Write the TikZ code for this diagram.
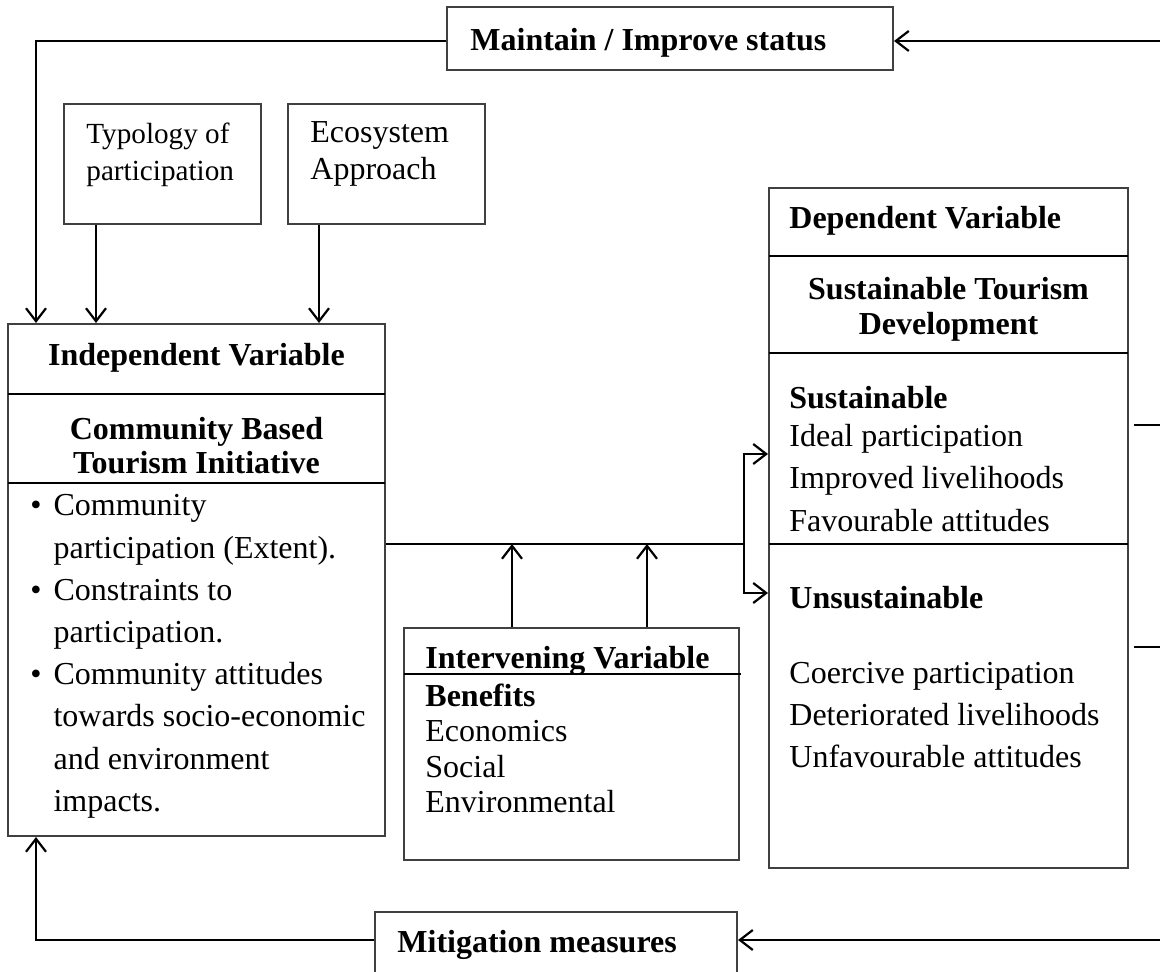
\documentclass[tikz,border=0pt]{standalone}
\usepackage{fontspec}
\setmainfont{Liberation Serif}
\usetikzlibrary{arrows.meta,fit}

\begin{document}
\begin{tikzpicture}[x=0.5pt,y=-0.5pt,
    box/.style={draw=black!75, line width=1pt, inner sep=0pt},
    divider/.style={line width=1pt},
    line/.style={line width=1.1pt},
    arr/.style={line, -{Straight Barb[length=6.5pt,width=10pt]}},
    txt/.style={inner sep=0pt, font=\fontsize{16}{21}\selectfont},
    bold/.style={inner sep=0pt, font=\fontsize{16}{21}\selectfont\bfseries}]
    \useasboundingbox (0,0) rectangle (1160,972);

    % Define boxes
    \node[box, fit={(447,7) (893,70)}] (maintain) {};
    \node[box, fit={(64,104) (261,224)}] (typo) {};
    \node[box, fit={(288,104) (485,224)}] (eco) {};
    \node[box, fit={(8,324) (385,836)}] (indep) {};
    \node[box, fit={(769,188) (1128,868)}] (dep) {};
    \node[box, fit={(404,628) (739,860)}] (interv) {};
    \node[box, fit={(375,912) (737,1000)}] (mitig) {};

    % Dividers inside boxes
    \draw[divider] (8,394) -- (385,394);
    \draw[divider] (8,483) -- (385,483);
    \draw[divider] (769,256) -- (1128,256);
    \draw[divider] (769,353) -- (1128,353);
    \draw[divider] (769,544) -- (1128,544);
    \draw[divider] (404,674) -- (741,674);

    % Define texts
    \node[bold, anchor=base west] (maintaint) at (470,51) {Maintain / Improve status};
    \node[inner sep=0pt, font=\fontsize{14.6}{18.5}\selectfont, align=left, anchor=north west] (typot) at (86,123) {Typology of\\participation};
    \node[txt, font=\fontsize{16}{18.5}\selectfont, align=left, anchor=north west] (ecot) at (310,121.5) {Ecosystem\\Approach};

    \node[bold, anchor=base] (indept) at (196.5,365.5) {Independent Variable};
    \node[bold, font=\fontsize{16}{17}\selectfont\bfseries, align=center, anchor=north] (cbti) at (196.5,416.5) {Community Based\\Tourism Initiative};
    \node[txt, font=\fontsize{16}{21.1}\selectfont, anchor=north west] (items) at (30,486) {%
        \begin{tabular}{@{}l@{\hspace{6pt}}l@{}}
        \textbullet & Community\\
                    & participation (Extent).\\
        \textbullet & Constraints to\\
                    & participation.\\
        \textbullet & Community attitudes\\
                    & towards socio-economic\\
                    & and environment\\
                    & impacts.
        \end{tabular}};

    \node[bold, anchor=base west] (dept) at (789,228.5) {Dependent Variable};
    \node[bold, font=\fontsize{16}{17.5}\selectfont\bfseries, align=center, anchor=north] (stdt) at (948.5,276.5) {Sustainable Tourism\\Development};
    \node[bold, anchor=base west] (sust) at (789,408.5) {Sustainable};
    \node[txt, font=\fontsize{16}{21.25}\selectfont, align=left, anchor=north west] (sustl) at (789,423.5) {Ideal participation\\Improved livelihoods\\Favourable attitudes};
    \node[bold, anchor=base west] (unsust) at (789,608.5) {Unsustainable};
    \node[txt, align=left, anchor=north west] (unsustl) at (789,661.5) {Coercive participation\\Deteriorated livelihoods\\Unfavourable attitudes};

    \node[bold, anchor=base west] (intervt) at (425,668.5) {Intervening Variable};
    \node[txt, font=\fontsize{16}{17.75}\selectfont, align=left, anchor=north west] (benef) at (425,683.5) {{\bfseries Benefits}\\Economics\\Social\\Environmental};

    \node[bold, anchor=base west] (mitigt) at (397,952) {Mitigation measures};

    % Named coordinates
    \coordinate (rtop) at (1160,41);
    \coordinate (rbot) at (1160,940);
    \coordinate (rs1) at (1160,425);
    \coordinate (rs2) at (1160,647);
    \coordinate (split) at (744,544);
    \coordinate (up) at (744,454);
    \coordinate (down) at (744,593);
    \path ([xshift=16.5pt]typo.south west) coordinate (t1);
    \path ([xshift=16pt]eco.south west) coordinate (e1);
    \path ([xshift=54.5pt]interv.north west) coordinate (i1);
    \path ([xshift=122pt]interv.north west) coordinate (i2);

    % Draw edges
    \draw[arr] (rtop) -- (maintain.east |- rtop);
    \draw[arr] (maintain.west |- rtop) -| ([xshift=14.5pt]indep.north west);
    \draw[arr] (t1) -- (t1 |- indep.north);
    \draw[arr] (e1) -- (e1 |- indep.north);

    \draw[line] (indep.east |- split) -- (split);
    \draw[arr] (split) -- (up) -- (dep.west |- up);
    \draw[arr] (split) -- (down) -- (dep.west |- down);
    \draw[arr] (i1) -- (i1 |- split);
    \draw[arr] (i2) -- (i2 |- split);

    \draw[line] (dep.east |- rs1) ++(5,0) -- (rs1);
    \draw[line] (dep.east |- rs2) ++(5,0) -- (rs2);

    \draw[arr] (rbot) -- (mitig.east |- rbot);
    \draw[arr] (mitig.west |- rbot) -| ([xshift=14.5pt]indep.south west);
\end{tikzpicture}
\end{document}
